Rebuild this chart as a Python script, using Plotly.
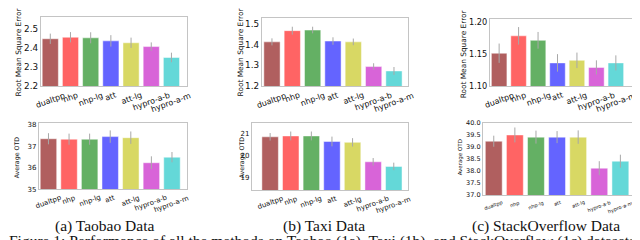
import plotly.graph_objects as go

W, H = 640, 240

methods = ["dualtpp", "nhp", "nhp-lg", "att", "att-lg", "hypro-a-b", "hypro-a-m"]
colors = ["#b05f5f", "#ff6464", "#64b064", "#6464ff", "#d8d864", "#d864d8", "#64d8d8"]

# RMSE (top row)
taobao_rmse = [2.448, 2.456, 2.453, 2.437, 2.427, 2.407, 2.350]
taobao_rmse_err = [0.027, 0.027, 0.029, 0.030, 0.027, 0.022, 0.025]
taxi_rmse = [1.413, 1.467, 1.470, 1.417, 1.413, 1.294, 1.273]
taxi_rmse_err = [0.017, 0.019, 0.016, 0.018, 0.016, 0.016, 0.019]
so_rmse = [1.151, 1.178, 1.171, 1.136, 1.140, 1.129, 1.136]
so_rmse_err = [0.015, 0.0136, 0.013, 0.0136, 0.012, 0.011, 0.0117]

# Average OTD (bottom row)
taobao_otd = [37.35, 37.33, 37.33, 37.45, 37.40, 36.23, 36.49]
taobao_otd_err = [0.26, 0.26, 0.26, 0.29, 0.29, 0.30, 0.24]
taxi_otd = [20.86, 20.90, 20.90, 20.65, 20.61, 19.73, 19.52]
taxi_otd_err = [0.17, 0.20, 0.20, 0.22, 0.19, 0.17, 0.17]
so_otd = [39.23, 39.49, 39.40, 39.40, 39.40, 38.11, 38.40]
so_otd_err = [0.23, 0.31, 0.27, 0.25, 0.28, 0.29, 0.27]

# tick labels
taobao_rmse_ticks = [2.2, 2.3, 2.4, 2.5]
taxi_rmse_ticks = [1.2, 1.3, 1.4, 1.5]
so_rmse_ticks = [1.10, 1.15, 1.20]
taobao_otd_ticks = [35, 36, 37, 38]
taxi_otd_ticks = [19, 20, 21]
so_otd_ticks = [37.0, 37.5, 38.0, 38.5, 39.0, 39.5, 40.0]

captions = ["(a) Taobao Data", "(b) Taxi Data", "(c) StackOverflow Data"]
fig_caption = ("Figure 1: Performance of all the methods on Taobao (1a), Taxi (1b), "
               "and StackOverflow (1c) datasets, measured by")

panels = [
    dict(vals=taobao_rmse, err=taobao_rmse_err, ticks=taobao_rmse_ticks, fmt=".1f",
         box=(33, 179, 5, 77), yr=[2.2, 2.563], xr=[-0.46, 6.77],
         title="Root Mean Square Error", tx=10, ty=42, tfs=7.4, tickfs=8.8, xfs=8),
    dict(vals=taxi_rmse, err=taxi_rmse_err, ticks=taxi_rmse_ticks, fmt=".1f",
         box=(254, 400, 6, 77), yr=[1.2, 1.529], xr=[-0.49, 6.69],
         title="Root Mean Square Error", tx=232, ty=42, tfs=7.4, tickfs=8.8, xfs=8),
    dict(vals=so_rmse, err=so_rmse_err, ticks=so_rmse_ticks, fmt=".2f",
         box=(482, 624, 7, 77), yr=[1.10, 1.2045], xr=[-0.47, 6.83],
         title="Root Mean Square Error", tx=455, ty=44, tfs=7.4, tickfs=8.2, xfs=8),
    dict(vals=taobao_otd, err=taobao_otd_err, ticks=taobao_otd_ticks, fmt="d",
         box=(31, 179, 115, 184), yr=[35, 38.1], xr=[-0.46, 6.73],
         title="Average OTD", tx=9, ty=151, tfs=6.3, tickfs=7, xfs=7),
    dict(vals=taxi_otd, err=taxi_otd_err, ticks=taxi_otd_ticks, fmt="d",
         box=(244, 400, 115, 185), yr=[18.45, 21.5], xr=[-0.88, 6.69],
         title="Average OTD", tx=234, ty=151, tfs=6.3, tickfs=7, xfs=7),
    dict(vals=so_otd, err=so_otd_err, ticks=so_otd_ticks, fmt=".1f",
         box=(475, 628, 115, 190), yr=[37.0, 40.0], xr=[-0.51, 6.74],
         title="Average OTD", tx=452, ty=151, tfs=5.5, tickfs=6.5, xfs=5),
]

FONT = "DejaVu Sans"
fig = go.Figure()
annotations = []
layout = {}

for i, p in enumerate(panels):
    n = i + 1
    xa = "x" if n == 1 else f"x{n}"
    ya = "y" if n == 1 else f"y{n}"
    L, R, T, B = p["box"]
    fig.add_trace(go.Bar(
        x=methods, y=p["vals"], xaxis=xa, yaxis=ya,
        marker=dict(color=colors, line=dict(color="rgba(255,255,255,0.6)", width=0.8)),
        width=0.8,
        error_y=dict(type="data", array=p["err"], color="#a8a8a8", thickness=1, width=0),
        showlegend=False,
    ))
    xkey = "xaxis" if n == 1 else f"xaxis{n}"
    ykey = "yaxis" if n == 1 else f"yaxis{n}"
    layout[xkey] = dict(domain=[L / W, R / W], anchor=ya, type="category",
                        range=p["xr"], showticklabels=False, ticks="",
                        showline=True, mirror=True, linecolor="#c4c4c4", linewidth=1.3,
                        showgrid=False, zeroline=False, fixedrange=True)
    if p["fmt"] == "d":
        ticktext = [str(int(v)) for v in p["ticks"]]
    else:
        ticktext = [format(v, p["fmt"]) for v in p["ticks"]]
    layout[ykey] = dict(domain=[1 - B / H, 1 - T / H], anchor=xa, range=p["yr"],
                        tickvals=p["ticks"], ticktext=ticktext, ticks="",
                        tickfont=dict(family=FONT, size=p["tickfs"], color="#111"),
                        showline=True, mirror=True, linecolor="#c4c4c4", linewidth=1.3,
                        showgrid=False, zeroline=False, fixedrange=True)
    for m in methods:
        annotations.append(dict(
            x=m, xref=xa, y=1 - (B + 2) / H, yref="paper",
            text=m, textangle=-20, showarrow=False, xanchor="center", yanchor="top",
            font=dict(family=FONT, size=p["xfs"], color="#111"),
        ))
    annotations.append(dict(
        x=p["tx"] / W, y=1 - p["ty"] / H, xref="paper", yref="paper",
        text=p["title"], textangle=-90, showarrow=False,
        xanchor="center", yanchor="middle",
        font=dict(family=FONT, size=p["tfs"], color="#111"),
    ))

for cap, cx in zip(captions, [96, 316, 538]):
    annotations.append(dict(
        x=cx / W, y=1 - 222.5 / H, xref="paper", yref="paper", text=cap,
        showarrow=False, xanchor="center", yanchor="middle",
        font=dict(family="Liberation Serif", size=15.5, color="#111"),
    ))
annotations.append(dict(
    x=-1 / W, y=1 - 238 / H, xref="paper", yref="paper", text=fig_caption,
    showarrow=False, xanchor="left", yanchor="middle",
    font=dict(family="Liberation Serif", size=15.5, color="#111"),
))

fig.update_layout(
    width=W, height=H, margin=dict(l=0, r=0, t=0, b=0),
    paper_bgcolor="white", plot_bgcolor="white",
    annotations=annotations, bargap=0.2,
    **layout,
)

fig.write_html("out.html", config={"displayModeBar": False})
